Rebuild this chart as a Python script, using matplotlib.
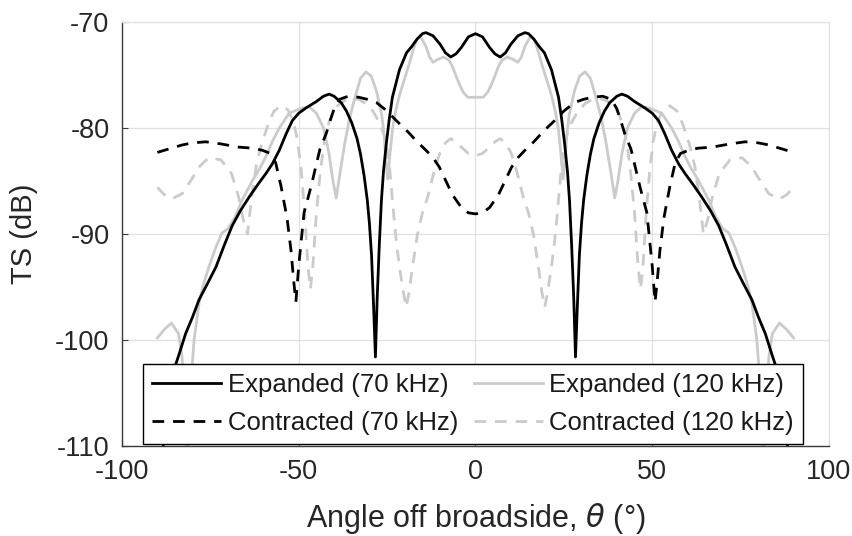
import matplotlib.pyplot as plt
import numpy as np

plt.rcParams['font.family'] = ['Liberation Sans', 'DejaVu Sans']
plt.rcParams['mathtext.fontset'] = 'dejavusans'
plt.rcParams['axes.unicode_minus'] = False

# half-pattern values (theta >= 0), curves are symmetric about broadside
th_exp70 = [0, 2, 4, 5.5, 7, 8.5, 10, 12, 14, 15, 16.5, 18, 19.5, 21.5, 23.5, 24.4,
            25.2, 26, 26.6, 27.2, 27.8, 28.3, 28.8, 29.4, 30, 30.6, 31.5, 32.5, 33.5,
            35, 36.5, 38, 40, 41.4, 43, 45, 47.9, 50, 51.8, 53.5, 55.5, 57.5, 59.3,
            61.5, 64, 66.5, 68.8, 71, 73.4, 76, 78.2, 80, 82, 84, 85.3, 87, 88.5, 90]
ts_exp70 = [-71.1, -71.4, -72.4, -73.0, -73.3, -72.9, -72.1, -71.3, -71.0, -71.1, -71.6,
            -72.3, -72.9, -74.5, -77.1, -79.2, -81.4, -84.0, -86.8, -91.0, -96.0, -101.6,
            -97.0, -92.0, -89.0, -86.8, -84.5, -82.5, -81.0, -79.5, -78.4, -77.6, -77.0,
            -76.8, -77.0, -77.5, -78.1, -78.6, -79.3, -80.5, -82.1, -83.4, -84.3, -85.3,
            -86.5, -87.8, -89.2, -91.0, -93.1, -94.8, -96.2, -97.8, -99.4, -101.5, -102.8,
            -106.5, -110.5, -113.0]

th_exp120 = [0, 2.2, 3.5, 4.5, 5.5, 6.5, 7.5, 9, 10.5, 12, 13, 14, 15.5, 16.5, 17.5,
             18.7, 20, 21.5, 22.5, 23.4, 24.2, 24.8, 25.4, 25.8, 26.5, 28, 29.5, 31,
             32.5, 34, 35.7, 37, 38.3, 39.4, 40.3, 41.5, 43, 45, 47, 49, 50.5, 52.7,
             55.5, 57.5, 59.3, 61, 63, 66, 68, 70, 71.7, 73.5, 75.4, 77, 78.2, 79.6,
             80.5, 81.5, 82.3, 83, 84, 86, 88, 90]
ts_exp120 = [-77.1, -77.1, -76.6, -75.9, -75.1, -74.2, -73.6, -73.3, -73.5, -73.8, -73.3,
             -72.3, -71.4, -71.6, -72.5, -73.9, -75.3, -76.9, -78.3, -79.9, -82.5, -84.8,
             -83.0, -80.8, -78.8, -76.5, -75.1, -74.7, -75.3, -77.0, -79.2, -81.5, -84.2,
             -86.6, -85.0, -82.3, -80.0, -78.6, -78.0, -78.1, -78.3, -78.6, -80.0, -81.3,
             -82.7, -83.8, -84.9, -86.8, -88.4, -89.5, -89.9, -91.3, -93.1, -94.8, -96.5,
             -100.0, -104.0, -112.0, -106.0, -101.6, -99.4, -98.4, -99.0, -99.8]

th_con70 = [0, 2, 4, 6.5, 8.5, 10.2, 12, 14, 16.5, 18.7, 20.5, 22.4, 25, 28, 30.5, 33,
            36, 38.5, 40, 41.2, 42.2, 44, 46.5, 48.5, 50, 50.8, 51.4, 52.2, 53.3, 55,
            56.5, 58, 60.3, 63, 67, 72, 76.3, 80, 83, 86, 90]
ts_con70 = [-88.1, -88.0, -87.5, -86.3, -84.9, -83.7, -82.8, -82.1, -81.3, -80.5, -79.9,
            -79.3, -78.4, -77.6, -77.3, -77.1, -77.0, -77.3, -78.2, -79.4, -80.5, -82.0,
            -85.5, -88.0, -93.0, -96.4, -94.5, -91.5, -88.5, -85.5, -83.3, -82.4, -82.1,
            -81.9, -81.8, -81.5, -81.3, -81.4, -81.6, -81.9, -82.3]

th_con120 = [0, 2, 4, 5.5, 7, 8.5, 10, 11, 12, 13.5, 15, 16.5, 17.8, 18.8, 19.6, 20.5,
             21.5, 22.3, 22.9, 23.7, 24.4, 25.5, 27, 29, 31, 33, 35, 37, 39, 40.5, 42,
             43, 44, 45, 46, 46.7, 47.4, 48.3, 49.3, 50.3, 51.5, 53, 55, 57, 58.6, 60.5,
             62, 63.3, 64.5, 65.8, 67, 69, 72, 75.4, 78, 81, 83, 86, 88, 90]
ts_con120 = [-82.6, -82.4, -81.8, -81.3, -81.0, -81.4, -82.3, -83.3, -84.5, -86.5, -88.0,
             -90.2, -93.1, -95.5, -96.9, -95.3, -93.1, -91.0, -89.0, -86.0, -83.3, -81.0,
             -79.6, -78.4, -77.7, -77.3, -77.2, -77.4, -77.9, -78.6, -80.0, -81.8, -84.5,
             -88.0, -93.0, -95.2, -93.0, -88.0, -84.0, -81.2, -79.4, -78.3, -77.9, -78.4,
             -79.6, -81.5, -83.5, -86.5, -90.0, -88.5, -86.5, -84.3, -83.0, -82.8, -83.6,
             -85.2, -86.2, -86.7, -86.3, -85.6]

labels = ['Expanded (70 kHz)', 'Contracted (70 kHz)',
          'Expanded (120 kHz)', 'Contracted (120 kHz)']


def mirror(th, ts):
    th = np.asarray(th, float)
    ts = np.asarray(ts, float)
    return (np.concatenate([-th[::-1], th[1:]]),
            np.concatenate([ts[::-1], ts[1:]]))


fig = plt.figure(figsize=(8.53, 5.36), dpi=100)
ax = fig.add_axes([0.1430, 0.1679, 0.8288, 0.7910])

gray = '#cbcbcb'
dash = (0, (4.2, 3.2))
lw = 2.0

x, y = mirror(th_exp70, ts_exp70)
ax.plot(x, y, color='k', lw=lw, label=labels[0])
x, y = mirror(th_con70, ts_con70)
ax.plot(x, y, color='k', lw=lw, ls=dash, label=labels[1])
x, y = mirror(th_exp120, ts_exp120)
ax.plot(x, y, color=gray, lw=lw, label=labels[2])
x, y = mirror(th_con120, ts_con120)
ax.plot(x, y, color=gray, lw=lw, ls=dash, label=labels[3])

# keep the gray lines behind the black ones
ax.lines[2].set_zorder(1.9)
ax.lines[3].set_zorder(1.9)

ax.set_xlim(-100, 100)
ax.set_ylim(-110, -70)
ax.set_xticks([-100, -50, 0, 50, 100])
ax.set_yticks([-110, -100, -90, -80, -70])
ax.grid(True, color='#e0e0e0', lw=0.9)
ax.set_axisbelow(True)

txt = '#262626'
for s in ['left', 'bottom']:
    ax.spines[s].set_color('#3a3a3a')
    ax.spines[s].set_linewidth(1.0)
for s in ['top', 'right']:
    ax.spines[s].set_color('#e0e0e0')
    ax.spines[s].set_linewidth(0.9)
ax.tick_params(direction='in', length=4, width=0.8, colors='#3a3a3a',
               labelcolor=txt, labelsize=19.5, pad=9)

ax.set_xlabel(r'Angle off broadside, $\theta$ (°)', fontsize=22, color=txt, labelpad=12)
ax.set_ylabel('TS (dB)', fontsize=21, color=txt, labelpad=12)

h = ax.get_lines()
leg = ax.legend(h, labels, ncol=2, loc='lower left',
                bbox_to_anchor=(0.0297, 0.004), borderaxespad=0,
                fontsize=18.5, frameon=True, fancybox=False, framealpha=1,
                edgecolor='k', handlelength=2.7, handletextpad=0.25,
                columnspacing=0.6, labelspacing=0.55, borderpad=0.35)
leg.get_frame().set_linewidth(1.0)
for t in leg.get_texts():
    t.set_color('#1a1a1a')

fig.savefig('out.png', dpi=100)
